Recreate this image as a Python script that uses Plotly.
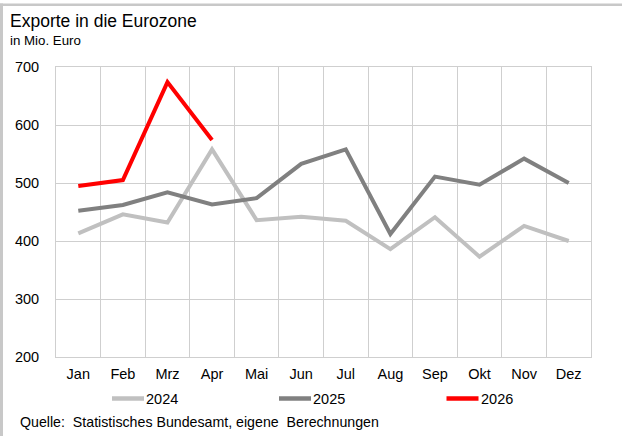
import plotly.graph_objects as go

# Monthly exports to the euro area, million euro
months = ["Jan", "Feb", "Mrz", "Apr", "Mai", "Jun", "Jul", "Aug", "Sep", "Okt", "Nov", "Dez"]
exports_2024 = [413, 446, 432, 558, 436, 442, 435, 386, 441, 373, 426, 400]
exports_2025 = [452, 462, 484, 463, 474, 533, 558, 412, 511, 497, 542, 500]
exports_2026 = [495, 505, 674, 574]
years = ["2024", "2025", "2026"]
colors = ["#c0c0c0", "#808080", "#ff0000"]

W, H = 622, 436
L, R, T, B = 56, 31, 67, 79
PW, PH = W - L - R, H - T - B


def px(x):
    return (x - L) / PW


def py(y):
    return (H - B - y) / PH


FONT = "Liberation Sans, Arial, sans-serif"

fig = go.Figure()
for name, vals, col in zip(years, [exports_2024, exports_2025, exports_2026], colors):
    fig.add_trace(go.Scatter(
        x=months[:len(vals)], y=vals, name=name, mode="lines",
        line=dict(color=col, width=4), showlegend=False,
    ))

grid = "#cfcfcf"
fig.update_layout(
    width=W, height=H,
    margin=dict(l=L, r=R, t=T, b=B),
    paper_bgcolor="white", plot_bgcolor="white",
    font=dict(family=FONT, size=14.5, color="#000000"),
    xaxis=dict(
        type="category", categoryarray=months, range=[-0.5, 11.5],
        tickson="boundaries", showgrid=True, gridcolor=grid,
        gridwidth=1, ticks="", showline=True, linecolor=grid, mirror=True,
        tickfont=dict(size=14.5), ticklabelstandoff=4,
    ),
    yaxis=dict(
        range=[200, 700], dtick=100, showgrid=True, gridcolor=grid, gridwidth=1,
        ticks="", showline=True, linecolor=grid, mirror=True, zeroline=False,
        tickfont=dict(size=14.5), ticklabelstandoff=13,
    ),
    showlegend=False,
)

# Legend row below the axis: line sample followed by the year
legend_y = 398.5
sample_x = [112, 279, 446.5]
for x0, name, col in zip(sample_x, years, colors):
    fig.add_shape(type="line", xref="paper", yref="paper",
                  x0=px(x0), x1=px(x0 + 32), y0=py(legend_y), y1=py(legend_y),
                  line=dict(color=col, width=4.5))
    fig.add_annotation(text=name, xref="paper", yref="paper",
                       x=px(x0 + 33), y=py(legend_y), xanchor="left", yanchor="middle",
                       showarrow=False, borderpad=0, font=dict(size=14.5))

# Title, unit and source lines
fig.add_annotation(text="Exporte in die Eurozone", xref="paper", yref="paper",
                   x=px(9), y=py(21), xanchor="left", yanchor="middle",
                   showarrow=False, borderpad=0, font=dict(size=17.5))
fig.add_annotation(text="in Mio. Euro", xref="paper", yref="paper",
                   x=px(9), y=py(40.5), xanchor="left", yanchor="middle",
                   showarrow=False, borderpad=0, font=dict(size=13.3))
fig.add_annotation(text="Quelle:  Statistisches Bundesamt, eigene  Berechnungen",
                   xref="paper", yref="paper",
                   x=px(19), y=py(421.5), xanchor="left", yanchor="middle",
                   showarrow=False, borderpad=0, font=dict(size=14.2))

# Frame: top and left border strips
fig.add_shape(type="rect", xref="paper", yref="paper", x0=px(0), x1=px(W),
              y0=py(6), y1=py(3.5), fillcolor="#c8c8c8", line_width=0, layer="above")
fig.add_shape(type="rect", xref="paper", yref="paper", x0=px(0), x1=px(3),
              y0=py(H), y1=py(3.5), fillcolor="#c8c8c8", line_width=0, layer="above")

fig.write_html("out.html")
